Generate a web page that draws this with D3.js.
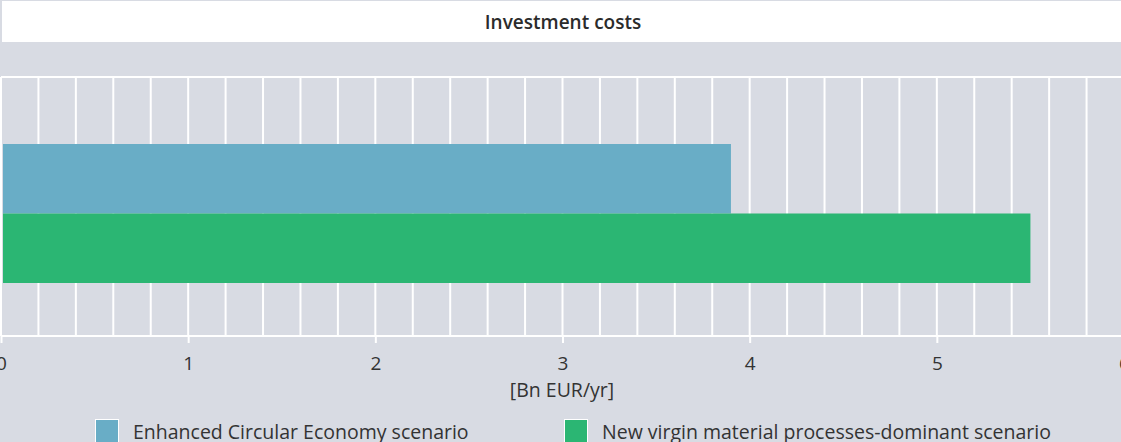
<!DOCTYPE html>
<html>
<head>
<meta charset="utf-8">
<script src="https://cdn.jsdelivr.net/npm/d3@7"></script>
<style>
  body { margin: 0; background: #d8dbe3; overflow: hidden; }
  text { font-family: "Open Sans", "Noto Sans", sans-serif; fill: #2b2b2b; }
</style>
</head>
<body>
<div id="chart"></div>
<script>
var svgWidth = 1121;
var svgHeight = 442;

// data
var chartTitle = "Investment costs";
var seriesNames = ["Enhanced Circular Economy scenario", "New virgin material processes-dominant scenario"];
var seriesValues = [3.9, 5.5];
var seriesColors = ["#69adc6", "#2bb673"];
var xTicks = [0, 1, 2, 3, 4, 5, 6];
var xAxisLabel = "[Bn EUR/yr]";

var plot = { top: 77, bottom: 336, left: 1, right: 1124 };

var svg = d3.select("#chart")
  .append("svg")
  .attr("width", svgWidth)
  .attr("height", svgHeight);

// title box
svg.append("rect")
  .attr("x", 2)
  .attr("y", 1)
  .attr("width", svgWidth - 2)
  .attr("height", 41)
  .attr("fill", "#fff");

svg.append("text")
  .attr("x", 563)
  .attr("y", 22)
  .attr("dy", "0.35em")
  .attr("text-anchor", "middle")
  .style("font-size", "19px")
  .style("font-weight", 600)
  .text(chartTitle);

var x = d3.scaleLinear()
  .domain([0, 6])
  .range([plot.left, plot.right]);

var y = d3.scaleBand()
  .domain(seriesNames)
  .range([144, 283]);

// vertical grid every 0.2
var gridVals = d3.range(0, 31).map(d => d / 5);
svg.append("g").selectAll("line")
  .data(gridVals)
  .enter()
  .append("line")
  .attr("x1", d => x(d))
  .attr("x2", d => x(d))
  .attr("y1", plot.top)
  .attr("y2", plot.bottom)
  .attr("stroke", "#fff")
  .attr("stroke-width", 2);

// top and bottom borders
svg.append("g").selectAll("line")
  .data([plot.top, plot.bottom])
  .enter()
  .append("line")
  .attr("x1", 1)
  .attr("x2", svgWidth)
  .attr("y1", d => d)
  .attr("y2", d => d)
  .attr("stroke", "#fff")
  .attr("stroke-width", 2);

// bars
svg.append("g").selectAll("rect")
  .data(seriesNames)
  .enter()
  .append("rect")
  .attr("x", x(0) + 2)
  .attr("y", d => y(d))
  .attr("width", (d, i) => x(seriesValues[i]) - x(0) - 2)
  .attr("height", y.bandwidth())
  .attr("fill", (d, i) => seriesColors[i]);

// x axis
var xAxis = svg.append("g")
  .attr("transform", `translate(0, ${plot.bottom})`)
  .call(d3.axisBottom(x).tickValues(xTicks).tickFormat(d3.format("d")).tickSize(7).tickPadding(14));

xAxis.select(".domain").remove();
xAxis.selectAll(".tick line")
  .attr("stroke", "#fff")
  .attr("stroke-width", 2);
xAxis.selectAll(".tick text")
  .style("font-size", "19px")
  .style("font-family", "\"Open Sans\", sans-serif")
  .style("fill", "#333");

svg.append("text")
  .attr("x", 562)
  .attr("y", 390)
  .attr("dy", "0.35em")
  .attr("text-anchor", "middle")
  .style("font-size", "19.5px")
  .style("fill", "#333")
  .text(xAxisLabel);

// legend
var legendX = [95, 564];
var legend = svg.append("g").selectAll("g")
  .data(seriesNames)
  .enter()
  .append("g")
  .attr("transform", (d, i) => `translate(${legendX[i]}, 419)`);

legend.append("rect")
  .attr("x", 0.5)
  .attr("y", 0.5)
  .attr("width", 23)
  .attr("height", 23)
  .attr("fill", (d, i) => seriesColors[i])
  .attr("stroke", "#fff")
  .attr("stroke-width", 1);

legend.append("text")
  .attr("x", 38)
  .attr("y", 13)
  .attr("dy", "0.35em")
  .style("font-size", "19.5px")
  .style("fill", "#333")
  .text(d => d);
</script>
</body>
</html>
